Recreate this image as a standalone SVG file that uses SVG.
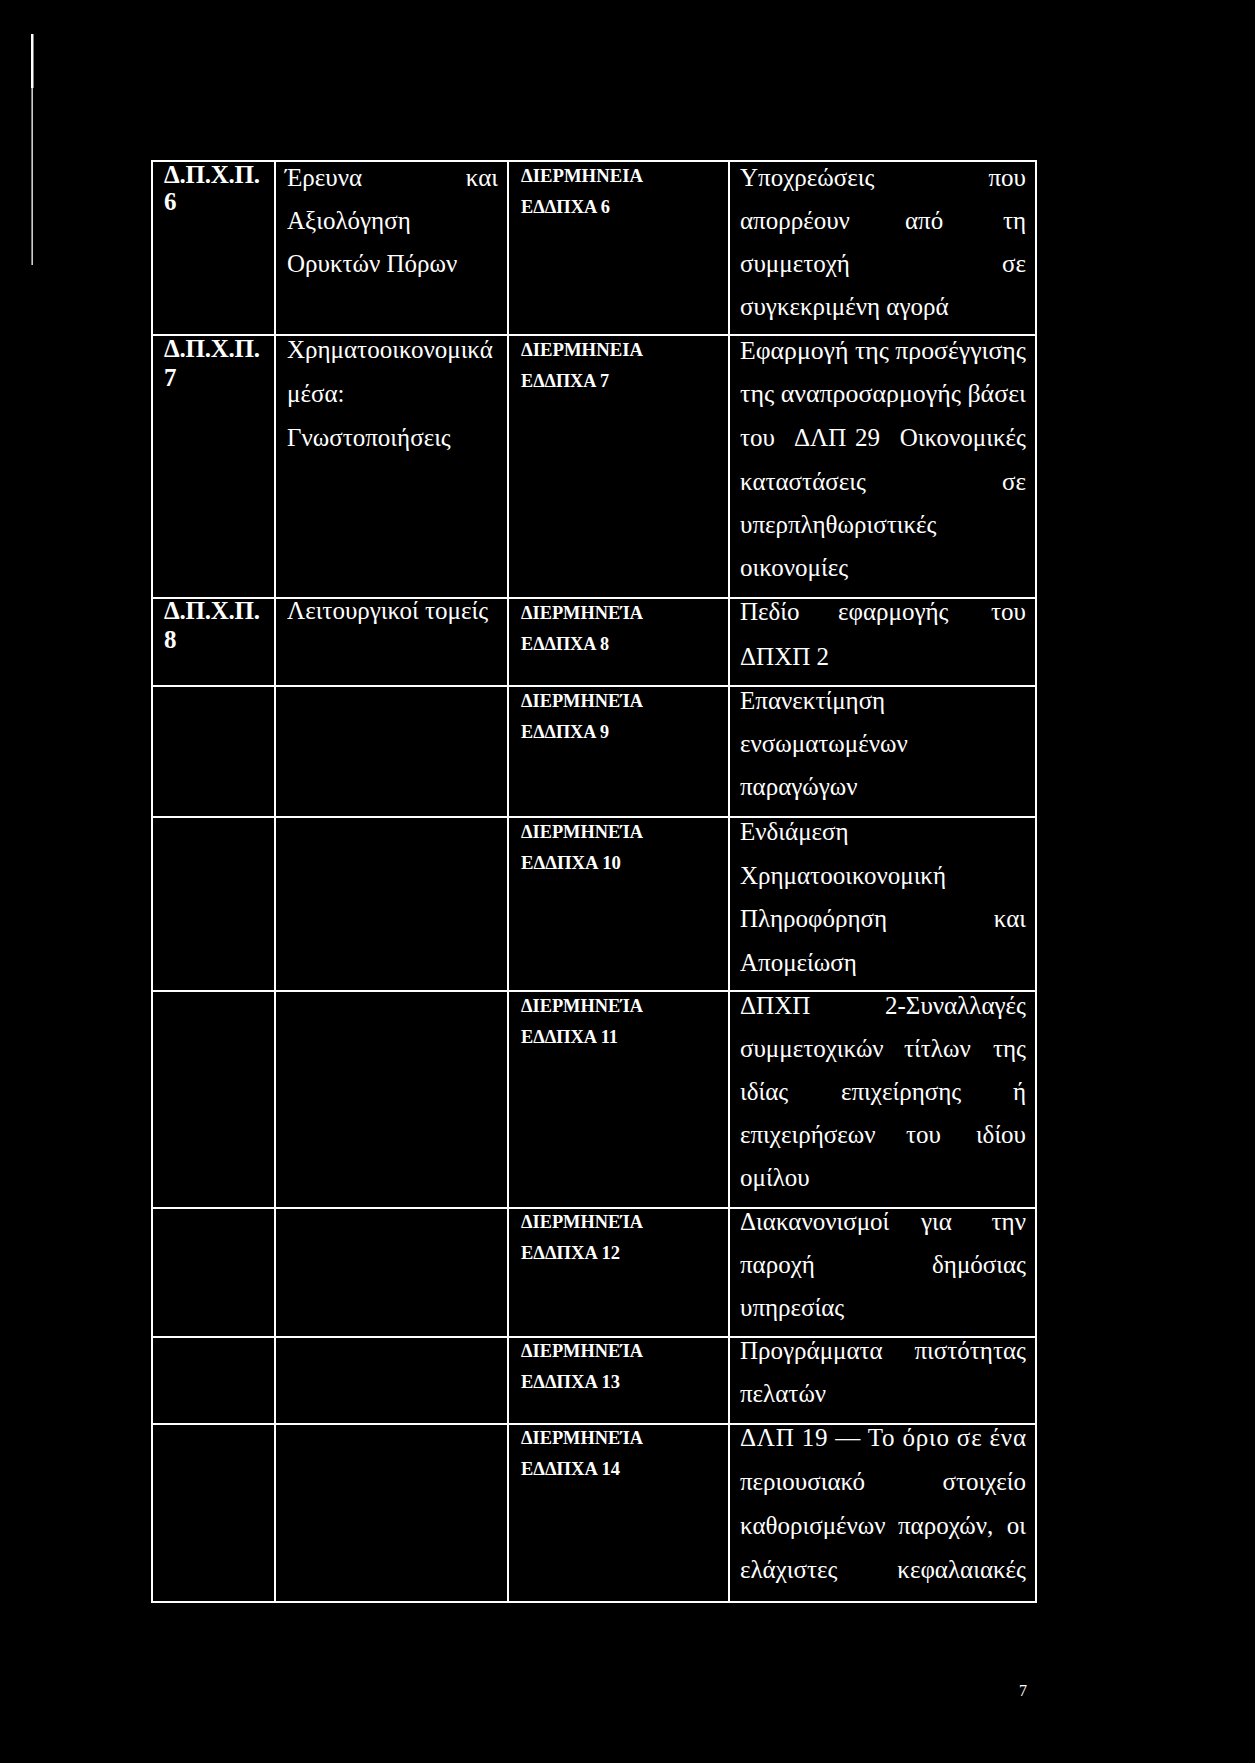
<svg xmlns="http://www.w3.org/2000/svg" width="1255" height="1763" viewBox="0 0 1255 1763">
<style>
.bg{fill:#000}
.ln{stroke:#fff;stroke-width:2;fill:none}
.t{font-family:"Liberation Serif","Times New Roman",serif;font-size:25px;fill:#fff}
.b{font-family:"Liberation Serif","Times New Roman",serif;font-size:25px;font-weight:bold;fill:#fff}
.h{font-family:"Liberation Serif","Times New Roman",serif;font-size:18.5px;font-weight:bold;fill:#fff}
.r{text-anchor:end}
</style>
<rect class="bg" x="0" y="0" width="1255" height="1763"/>
<g id="margin-bar">
<rect x="31" y="34" width="2.5" height="54" fill="#fff"/>
<rect x="31.5" y="88" width="1.3" height="177" fill="#fff"/>
</g>
<g id="grid">
<rect class="ln" x="152" y="161" width="884" height="1441"/>
<line class="ln" x1="275" y1="161" x2="275" y2="1602"/>
<line class="ln" x1="508" y1="161" x2="508" y2="1602"/>
<line class="ln" x1="729" y1="161" x2="729" y2="1602"/>
<line class="ln" x1="152" y1="335" x2="1036" y2="335"/>
<line class="ln" x1="152" y1="598" x2="1036" y2="598"/>
<line class="ln" x1="152" y1="686" x2="1036" y2="686"/>
<line class="ln" x1="152" y1="817" x2="1036" y2="817"/>
<line class="ln" x1="152" y1="991" x2="1036" y2="991"/>
<line class="ln" x1="152" y1="1208" x2="1036" y2="1208"/>
<line class="ln" x1="152" y1="1337" x2="1036" y2="1337"/>
<line class="ln" x1="152" y1="1424" x2="1036" y2="1424"/>
</g>
<g id="row6">
<text class="b" x="164" y="183" textLength="96">Δ.Π.Χ.Π.</text>
<text class="b" x="164" y="210">6</text>
<text class="t" x="285" y="186">Έρευνα</text>
<text class="t r" x="498" y="186">και</text>
<text class="t" x="287" y="229">Αξιολόγηση</text>
<text class="t" x="287" y="272">Ορυκτών Πόρων</text>
<text class="h" x="521" y="182" textLength="122" lengthAdjust="spacingAndGlyphs">ΔΙΕΡΜΗΝΕΙΑ</text>
<text class="h" x="521" y="213" textLength="89" lengthAdjust="spacingAndGlyphs">ΕΔΔΠΧΑ 6</text>
<text class="t" x="740" y="186">Υποχρεώσεις</text>
<text class="t r" x="1026" y="186">που</text>
<text class="t" x="740" y="229">απορρέουν</text>
<text class="t" x="905" y="229">από</text>
<text class="t r" x="1026" y="229">τη</text>
<text class="t" x="740" y="272">συμμετοχή</text>
<text class="t r" x="1026" y="272">σε</text>
<text class="t" x="740" y="315">συγκεκριμένη αγορά</text>
</g>
<g id="row7">
<text class="b" x="164" y="357" textLength="96">Δ.Π.Χ.Π.</text>
<text class="b" x="164" y="386">7</text>
<text class="t" x="287" y="358">Χρηματοοικονομικά</text>
<text class="t" x="287" y="402">μέσα:</text>
<text class="t" x="287" y="446">Γνωστοποιήσεις</text>
<text class="h" x="521" y="356" textLength="122" lengthAdjust="spacingAndGlyphs">ΔΙΕΡΜΗΝΕΙΑ</text>
<text class="h" x="521" y="387" textLength="88" lengthAdjust="spacingAndGlyphs">ΕΔΔΠΧΑ 7</text>
<text class="t" x="740" y="359" textLength="286" lengthAdjust="spacingAndGlyphs">Εφαρμογή της προσέγγισης</text>
<text class="t" x="740" y="402" textLength="286" lengthAdjust="spacingAndGlyphs">της αναπροσαρμογής βάσει</text>
<text class="t" x="740" y="446">του</text>
<text class="t" x="794" y="446">ΔΛΠ</text>
<text class="t" x="855" y="446">29</text>
<text class="t r" x="1026" y="446">Οικονομικές</text>
<text class="t" x="740" y="490">καταστάσεις</text>
<text class="t r" x="1026" y="490">σε</text>
<text class="t" x="740" y="533">υπερπληθωριστικές</text>
<text class="t" x="740" y="576">οικονομίες</text>
</g>
<g id="row8">
<text class="b" x="164" y="619" textLength="96">Δ.Π.Χ.Π.</text>
<text class="b" x="164" y="648">8</text>
<text class="t" x="287" y="619">Λειτουργικοί τομείς</text>
<text class="h" x="521" y="619" textLength="122" lengthAdjust="spacingAndGlyphs">ΔΙΕΡΜΗΝΕΊΑ</text>
<text class="h" x="521" y="650" textLength="88" lengthAdjust="spacingAndGlyphs">ΕΔΔΠΧΑ 8</text>
<text class="t" x="740" y="620">Πεδίο</text>
<text class="t" x="838" y="620">εφαρμογής</text>
<text class="t r" x="1026" y="620">του</text>
<text class="t" x="740" y="665">ΔΠΧΠ 2</text>
</g>
<g id="row9">
<text class="h" x="521" y="707" textLength="122" lengthAdjust="spacingAndGlyphs">ΔΙΕΡΜΗΝΕΊΑ</text>
<text class="h" x="521" y="738" textLength="88" lengthAdjust="spacingAndGlyphs">ΕΔΔΠΧΑ 9</text>
<text class="t" x="740" y="709">Επανεκτίμηση</text>
<text class="t" x="740" y="752">ενσωματωμένων</text>
<text class="t" x="740" y="795">παραγώγων</text>
</g>
<g id="row10">
<text class="h" x="521" y="838" textLength="122" lengthAdjust="spacingAndGlyphs">ΔΙΕΡΜΗΝΕΊΑ</text>
<text class="h" x="521" y="869" textLength="100" lengthAdjust="spacingAndGlyphs">ΕΔΔΠΧΑ 10</text>
<text class="t" x="740" y="840">Ενδιάμεση</text>
<text class="t" x="740" y="884">Χρηματοοικονομική</text>
<text class="t" x="740" y="927">Πληροφόρηση</text>
<text class="t r" x="1026" y="927">και</text>
<text class="t" x="740" y="971">Απομείωση</text>
</g>
<g id="row11">
<text class="h" x="521" y="1012" textLength="122" lengthAdjust="spacingAndGlyphs">ΔΙΕΡΜΗΝΕΊΑ</text>
<text class="h" x="521" y="1043" textLength="97" lengthAdjust="spacingAndGlyphs">ΕΔΔΠΧΑ 11</text>
<text class="t" x="740" y="1014">ΔΠΧΠ</text>
<text class="t r" x="1026" y="1014">2-Συναλλαγές</text>
<text class="t" x="740" y="1057">συμμετοχικών</text>
<text class="t" x="904" y="1057">τίτλων</text>
<text class="t r" x="1026" y="1057">της</text>
<text class="t" x="740" y="1100">ιδίας</text>
<text class="t" x="841" y="1100">επιχείρησης</text>
<text class="t r" x="1026" y="1100">ή</text>
<text class="t" x="740" y="1143">επιχειρήσεων</text>
<text class="t" x="906" y="1143">του</text>
<text class="t r" x="1026" y="1143">ιδίου</text>
<text class="t" x="740" y="1186">ομίλου</text>
</g>
<g id="row12">
<text class="h" x="521" y="1228" textLength="122" lengthAdjust="spacingAndGlyphs">ΔΙΕΡΜΗΝΕΊΑ</text>
<text class="h" x="521" y="1259" textLength="99" lengthAdjust="spacingAndGlyphs">ΕΔΔΠΧΑ 12</text>
<text class="t" x="740" y="1230">Διακανονισμοί</text>
<text class="t" x="921" y="1230">για</text>
<text class="t r" x="1026" y="1230">την</text>
<text class="t" x="740" y="1273">παροχή</text>
<text class="t r" x="1026" y="1273">δημόσιας</text>
<text class="t" x="740" y="1316">υπηρεσίας</text>
</g>
<g id="row13">
<text class="h" x="521" y="1357" textLength="122" lengthAdjust="spacingAndGlyphs">ΔΙΕΡΜΗΝΕΊΑ</text>
<text class="h" x="521" y="1388" textLength="99" lengthAdjust="spacingAndGlyphs">ΕΔΔΠΧΑ 13</text>
<text class="t" x="740" y="1359">Προγράμματα</text>
<text class="t r" x="1026" y="1359">πιστότητας</text>
<text class="t" x="740" y="1402">πελατών</text>
</g>
<g id="row14">
<text class="h" x="521" y="1444" textLength="122" lengthAdjust="spacingAndGlyphs">ΔΙΕΡΜΗΝΕΊΑ</text>
<text class="h" x="521" y="1475" textLength="99" lengthAdjust="spacingAndGlyphs">ΕΔΔΠΧΑ 14</text>
<text class="t" x="740" y="1446" textLength="286" lengthAdjust="spacing">ΔΛΠ 19 — Το όριο σε ένα</text>
<text class="t" x="740" y="1490">περιουσιακό</text>
<text class="t r" x="1026" y="1490">στοιχείο</text>
<text class="t" x="740" y="1534">καθορισμένων</text>
<text class="t" x="898" y="1534">παροχών,</text>
<text class="t r" x="1026" y="1534">οι</text>
<text class="t" x="740" y="1578">ελάχιστες</text>
<text class="t r" x="1026" y="1578">κεφαλαιακές</text>
</g>
<g id="page-number">
<text class="t" x="1019" y="1696" style="font-size:16px">7</text>
</g>
</svg>
